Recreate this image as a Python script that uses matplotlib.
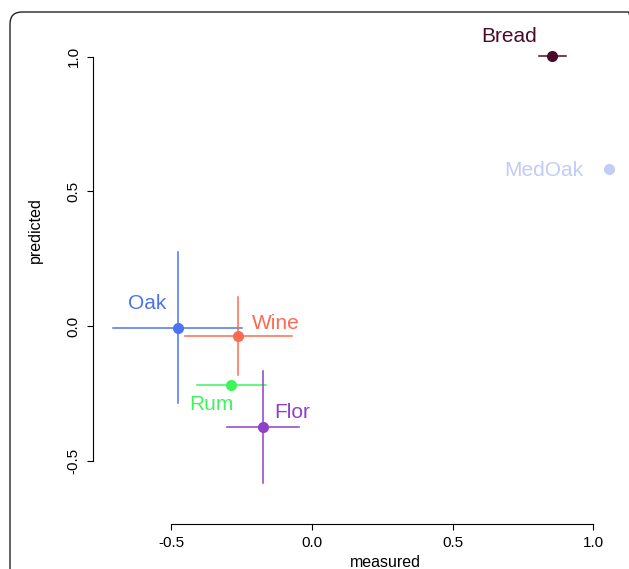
import matplotlib.pyplot as plt
from matplotlib.patches import FancyBboxPatch

plt.rcParams['font.family'] = ['Liberation Sans', 'DejaVu Sans']

names = ['Bread', 'MedOak', 'Oak', 'Wine', 'Rum', 'Flor']
colors = ['#4a0b2a', '#c3cbf7', '#4b74f2', '#fc6b51', '#3df55a', '#8f3fc8']
measured = [0.854, 1.057, -0.477, -0.262, -0.288, -0.173]
predicted = [1.001, 0.584, -0.005, -0.037, -0.219, -0.375]
x_lo = [0.807, 1.057, -0.706, -0.451, -0.410, -0.301]
x_hi = [0.902, 1.057, -0.248, -0.072, -0.165, -0.045]
y_lo = [1.001, 0.584, -0.283, -0.181, -0.219, -0.583]
y_hi = [1.001, 0.584, 0.275, 0.109, -0.219, -0.167]
# label offsets from the point, in points
label_dx = [-31, -47, -22, 27, -14, 21]
label_dy = [14, -1, 17, 9, -14, 11]

fig = plt.figure(figsize=(6.29, 5.69), dpi=100)
ax = fig.add_axes([101 / 629, 75.6 / 569, 520.5 / 629, 455.6 / 569])
ax.set_xlim(-0.75, 1.1)
ax.set_ylim(-0.62, 1.07)

for i in range(len(names)):
    c = colors[i]
    if x_hi[i] > x_lo[i]:
        ax.plot([x_lo[i], x_hi[i]], [predicted[i], predicted[i]], color=c, lw=1.1)
    if y_hi[i] > y_lo[i]:
        ax.plot([measured[i], measured[i]], [y_lo[i], y_hi[i]], color=c, lw=1.1)
    ax.plot(measured[i], predicted[i], 'o', color=c, ms=8, mec='none')
    ax.annotate(names[i], (measured[i], predicted[i]),
                xytext=(label_dx[i], label_dy[i]), textcoords='offset points',
                ha='center', va='center', color=c, fontsize=15)

for s in ['top', 'right']:
    ax.spines[s].set_visible(False)
ax.spines['left'].set_position(('outward', 5.8))
ax.spines['bottom'].set_position(('outward', 22))
ax.spines['left'].set_bounds(-0.5, 1.0)
ax.spines['bottom'].set_bounds(-0.5, 1.0)
ax.spines['left'].set_linewidth(0.8)
ax.spines['bottom'].set_linewidth(0.8)
ax.set_xticks([-0.5, 0.0, 0.5, 1.0])
ax.set_yticks([-0.5, 0.0, 0.5, 1.0])
ax.set_xticklabels(['-0.5', '0.0', '0.5', '1.0'])
ax.set_yticklabels(['-0.5', '0.0', '0.5', '1.0'], rotation=90, va='center')
ax.tick_params(length=4, width=0.8, labelsize=11, pad=5)
ax.set_xlabel('measured', fontsize=11.5)
ax.set_ylabel('predicted', fontsize=11.5)
ax.xaxis.set_label_coords(0.546, -0.135)
ax.yaxis.set_label_coords(-0.111, 0.578)

# rounded panel border, running off the right and bottom edges
frame = FancyBboxPatch((10 / 100, -0.5), 6.30, 5.69 - 12 / 100 + 0.5,
                       boxstyle='round,pad=0,rounding_size=0.12',
                       transform=fig.dpi_scale_trans, fill=False,
                       ec='#222222', lw=1.0, clip_on=False)
fig.patches.append(frame)

fig.savefig('out.png', dpi=100)
